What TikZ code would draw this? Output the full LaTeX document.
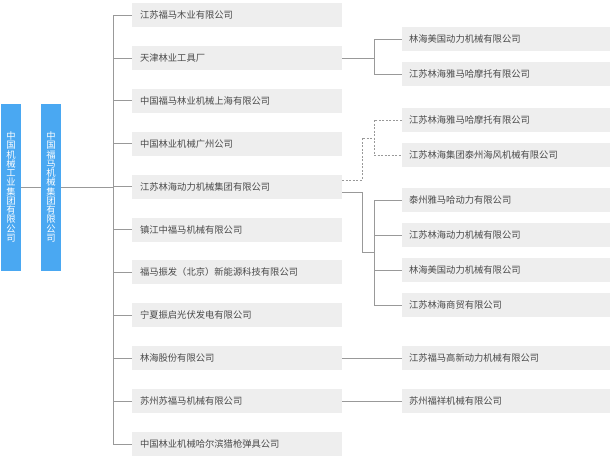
\documentclass[tikz,border=0pt]{standalone}
\usepackage{fontspec}
\setmainfont{Noto Sans CJK SC}
\begin{document}
\begin{tikzpicture}[x=1pt,y=-1pt,
  every node/.style={font=\fontsize{9.3}{9.3}\selectfont},
  midbox/.style={fill=boxgray,draw=none,minimum height=24pt,text width=194pt,inner xsep=8pt,inner ysep=0pt,align=left,text=txtgray},
  rbox/.style={fill=boxgray,draw=none,minimum height=24pt,text width=194pt,inner xsep=7pt,inner ysep=0pt,align=left,text=txtgray},
  bluebox/.style={fill=blueA,draw=none,minimum width=20pt,minimum height=167pt,inner sep=0pt,text=white,align=center,font=\fontsize{9.3}{9.25}\selectfont},
  conn/.style={draw=linegray,line width=0.8pt},
  dconn/.style={conn,dashed,dash pattern=on 2pt off 1.5pt}
]
\definecolor{boxgray}{HTML}{EEEEEE}
\definecolor{txtgray}{HTML}{4A4A4A}
\definecolor{blueA}{HTML}{4AA8F2}
\definecolor{linegray}{HTML}{999999}
\useasboundingbox (0,0) rectangle (611,464);

% left blue boxes
\node[bluebox] (lb1) at (11,187) {中\\国\\机\\械\\工\\业\\集\\团\\有\\限\\公\\司};
\node[bluebox] (lb2) at (51,187) {中\\国\\福\\马\\机\\械\\集\\团\\有\\限\\公\\司};

% middle boxes
\node[midbox] (m0) at (237,15) {江苏福马木业有限公司};
\node[midbox] (m1) at (237,57.9) {天津林业工具厂};
\node[midbox] (m2) at (237,100.8) {中国福马林业机械上海有限公司};
\node[midbox] (m3) at (237,143.7) {中国林业机械广州公司};
\node[midbox] (m4) at (237,186.6) {江苏林海动力机械集团有限公司};
\node[midbox] (m5) at (237,229.5) {镇江中福马机械有限公司};
\node[midbox] (m6) at (237,272.4) {福马振发（北京）新能源科技有限公司};
\node[midbox] (m7) at (237,315.3) {宁夏振启光伏发电有限公司};
\node[midbox] (m8) at (237,358.2) {林海股份有限公司};
\node[midbox] (m9) at (237,401.1) {苏州苏福马机械有限公司};
\node[midbox] (m10) at (237,444) {中国林业机械哈尔滨猎枪弹具公司};

% right boxes
\node[rbox] (r1) at (506,39) {林海美国动力机械有限公司};
\node[rbox] (r2) at (506,74) {江苏林海雅马哈摩托有限公司};
\node[rbox] (r3) at (506,120) {江苏林海雅马哈摩托有限公司};
\node[rbox] (r4) at (506,155) {江苏林海集团泰州海风机械有限公司};
\node[rbox] (r5) at (506,200) {泰州雅马哈动力有限公司};
\node[rbox] (r6) at (506,235) {江苏林海动力机械有限公司};
\node[rbox] (r7) at (506,270) {林海美国动力机械有限公司};
\node[rbox] (r8) at (506,305) {江苏林海商贸有限公司};
\node[rbox] (r9) at (506,358.2) {江苏福马高新动力机械有限公司};
\node[rbox] (r10) at (506,401.1) {苏州福祥机械有限公司};

% left connectors
\coordinate (t0) at (113,15);
\coordinate (t1) at (113,444);
\draw[conn] (lb1.east) -- (lb2.west);
\draw[conn] (lb2.east) -- (lb2.east -| t0);
\draw[conn] (t0) -- (t1);
\foreach \m in {m0,m1,m2,m3,m4,m5,m6,m7,m8,m9,m10}
  \draw[conn] (\m.west -| t0) -- (\m.west);

% Tianjin
\coordinate (b1) at (374,57.9);
\draw[conn] (m1.east) -- (b1);
\draw[conn] (r1.west) -- (r1.west -| b1) -- (r2.west -| b1) -- (r2.west);

% Jiangsu Linhai group: dashed
\coordinate (d1) at (362,138);
\coordinate (d2) at (374,138);
\draw[dconn] ([yshift=6.5pt]m4.east) -| (d1) -- (d2);
\draw[dconn] (r3.west) -- (r3.west -| d2) -- (r4.west -| d2) -- (r4.west);

% Jiangsu Linhai group: solid
\coordinate (s1) at (362,252);
\coordinate (s2) at (374,252);
\draw[conn] ([yshift=-5.5pt]m4.east) -| (s1) -- (s2);
\draw[conn] (r5.west) -- (r5.west -| s2) -- (r8.west -| s2) -- (r8.west);
\draw[conn] (r6.west -| s2) -- (r6.west);
\draw[conn] (r7.west -| s2) -- (r7.west);

% direct
\draw[conn] (m8.east) -- (r9.west);
\draw[conn] (m9.east) -- (r10.west);
\end{tikzpicture}
\end{document}
